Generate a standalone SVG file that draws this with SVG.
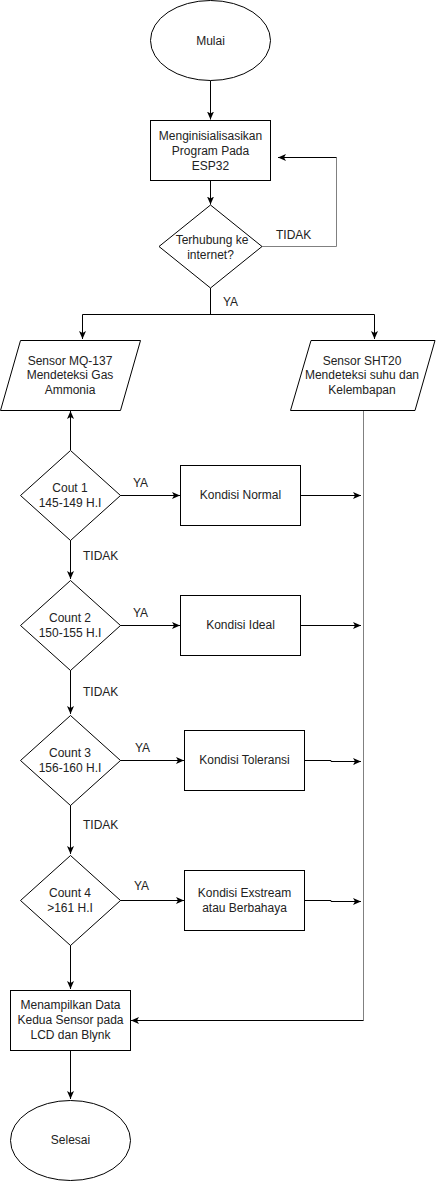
<svg xmlns="http://www.w3.org/2000/svg" width="436" height="1181" viewBox="0 0 436 1181">
<defs>
<marker id="ah" markerUnits="userSpaceOnUse" markerWidth="10" markerHeight="10" refX="8" refY="3.5" orient="auto">
<path d="M0,0 L8,3.5 L0,7 L2,3.5 Z" fill="#000"/>
</marker>
</defs>
<style>
.sh{fill:#fff;stroke:#000;stroke-width:1}
.t{font-family:"Liberation Sans",Arial,sans-serif;font-size:12px;fill:#222;text-anchor:middle;dominant-baseline:central}
.l{font-family:"Liberation Sans",Arial,sans-serif;font-size:12px;fill:#222;dominant-baseline:central}
.c{fill:none;stroke:#000;stroke-width:1}
.g{fill:none;stroke:#808080;stroke-width:1}
.a{marker-end:url(#ah)}
</style>
<rect width="436" height="1181" fill="#fff"/>
<g id="connectors">
<path class="c a" d="M210.5,80.5 V119.5"/>
<path class="c a" d="M210.5,180.5 V204.5"/>
<path class="g" d="M262,246.5 H336.5 V157.5"/>
<path class="c a" d="M336.5,157.5 H278"/>
<path class="c" d="M210.5,288 V314.5 M82.5,314.5 H374.5"/>
<path class="c a" d="M82.5,314.5 V339"/>
<path class="c a" d="M374.5,314.5 V339"/>
<path class="c a" d="M70.5,450 V411"/>
<path class="c a" d="M120,495.5 H180"/>
<path class="c a" d="M300,495.5 H361"/>
<path class="c a" d="M70.5,540 V579"/>
<path class="c a" d="M120,625.5 H180"/>
<path class="c a" d="M300,625.5 H361"/>
<path class="c a" d="M70.5,670 V714"/>
<path class="c a" d="M120,760.5 H184"/>
<path class="c a" d="M304,760.5 H331 V761.5 H361"/>
<path class="c a" d="M70.5,805 V854"/>
<path class="c a" d="M120,900.5 H184"/>
<path class="c a" d="M304,900.5 H331 V901.5 H361"/>
<path class="c a" d="M70.5,945 V989"/>
<path class="g" d="M363.5,411 V1020.5"/>
<path class="c a" d="M363.5,1020.5 H131"/>
<path class="c a" d="M70.5,1050 V1099"/>
<text class="l" x="276" y="235">TIDAK</text>
<text class="l" x="223" y="302">YA</text>
<text class="l" x="133" y="483">YA</text>
<text class="l" x="83" y="556">TIDAK</text>
<text class="l" x="133" y="613">YA</text>
<text class="l" x="83" y="692">TIDAK</text>
<text class="l" x="135" y="748">YA</text>
<text class="l" x="83" y="825">TIDAK</text>
<text class="l" x="134" y="886">YA</text>
</g>
<g id="mulai">
<ellipse class="sh" cx="210.5" cy="40.5" rx="60" ry="40"/>
<text class="t" x="210.5" y="40.5">Mulai</text>
</g>
<g id="init">
<rect class="sh" x="150.5" y="120.5" width="120" height="60"/>
<text class="t" x="210.5" y="136">Menginisialisasikan</text>
<text class="t" x="210.5" y="151">Program Pada</text>
<text class="t" x="210.5" y="166">ESP32</text>
</g>
<g id="cek-internet">
<path class="sh" d="M210.5,205 L262,246.5 L210.5,288 L159,246.5 Z"/>
<text class="t" x="212" y="240">Terhubung ke</text>
<text class="t" x="210.5" y="255">internet?</text>
</g>
<g id="sensor-mq137">
<path class="sh" d="M20.5,340.5 H140.5 L120.5,410.5 H0.5 Z"/>
<text class="t" x="70" y="361">Sensor MQ-137</text>
<text class="t" x="70" y="375">Mendeteksi Gas</text>
<text class="t" x="70" y="390">Ammonia</text>
</g>
<g id="sensor-sht20">
<path class="sh" d="M311,340.5 H435 L415,410.5 H290.5 Z"/>
<text class="t" x="362" y="361">Sensor SHT20</text>
<text class="t" x="362" y="375">Mendeteksi suhu dan</text>
<text class="t" x="362" y="390">Kelembapan</text>
</g>
<g id="count1">
<path class="sh" d="M70.5,450.5 L120.5,495.5 L70.5,540.5 L20.5,495.5 Z"/>
<text class="t" x="70" y="488">Cout 1</text>
<text class="t" x="70" y="503">145-149 H.I</text>
</g>
<g id="normal">
<rect class="sh" x="180.5" y="465.5" width="120" height="60"/>
<text class="t" x="240.5" y="495">Kondisi Normal</text>
</g>
<g id="count2">
<path class="sh" d="M70.5,580.5 L120.5,625.5 L70.5,670.5 L20.5,625.5 Z"/>
<text class="t" x="70" y="618">Count 2</text>
<text class="t" x="70" y="633">150-155 H.I</text>
</g>
<g id="ideal">
<rect class="sh" x="180.5" y="595.5" width="120" height="60"/>
<text class="t" x="240.5" y="625">Kondisi Ideal</text>
</g>
<g id="count3">
<path class="sh" d="M70.5,715.5 L120.5,760.5 L70.5,805.5 L20.5,760.5 Z"/>
<text class="t" x="70" y="753">Count 3</text>
<text class="t" x="70" y="768">156-160 H.I</text>
</g>
<g id="toleransi">
<rect class="sh" x="184.5" y="730.5" width="120" height="60"/>
<text class="t" x="244.5" y="760">Kondisi Toleransi</text>
</g>
<g id="count4">
<path class="sh" d="M70.5,855.5 L120.5,900.5 L70.5,945.5 L20.5,900.5 Z"/>
<text class="t" x="70" y="893">Count 4</text>
<text class="t" x="70" y="908">&gt;161 H.I</text>
</g>
<g id="exstream">
<rect class="sh" x="184.5" y="870.5" width="120" height="60"/>
<text class="t" x="244.5" y="893">Kondisi Exstream</text>
<text class="t" x="244.5" y="908">atau Berbahaya</text>
</g>
<g id="tampil">
<rect class="sh" x="10.5" y="990.5" width="120" height="60"/>
<text class="t" x="70.5" y="1005">Menampilkan Data</text>
<text class="t" x="70.5" y="1020">Kedua Sensor pada</text>
<text class="t" x="70.5" y="1035">LCD dan Blynk</text>
</g>
<g id="selesai">
<ellipse class="sh" cx="70.5" cy="1140.5" rx="60" ry="40"/>
<text class="t" x="70.5" y="1140">Selesai</text>
</g>
</svg>
